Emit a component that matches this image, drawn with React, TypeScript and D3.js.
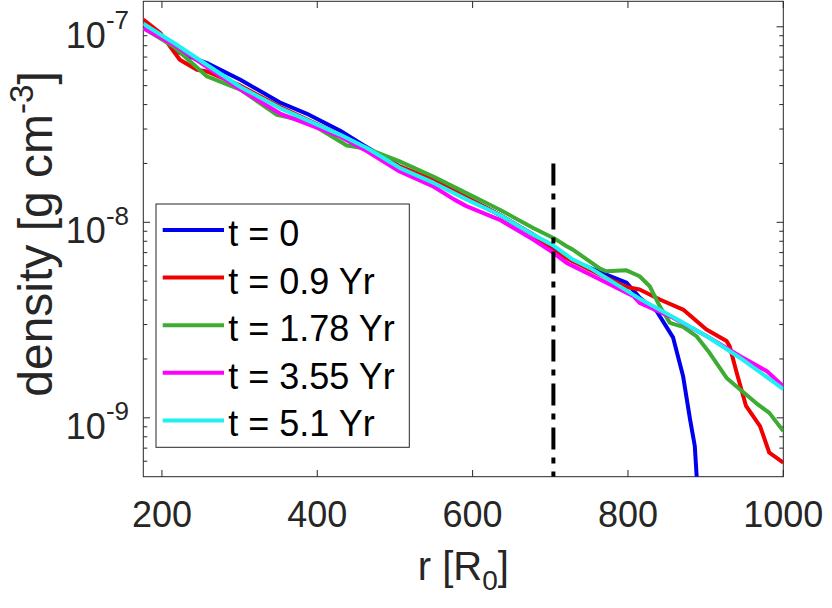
import React from 'react';
import * as d3 from 'd3';

// radius [R0] and density [g cm^-3], one pair of arrays per snapshot
const rT0 = [176, 200, 223, 258, 301, 352, 386, 429, 460, 506, 550, 592, 635, 678, 704, 729, 772, 798, 815, 837, 858, 871, 880, 886, 890];
const rhoT0 = [1.01e-7, 8.8e-8, 7.36e-8, 6.52e-8, 5.36e-8, 4.1e-8, 3.6e-8, 2.95e-8, 2.47e-8, 1.93e-8, 1.63e-8, 1.34e-8, 1.09e-8, 8.65e-9, 7.3e-9, 6.35e-9, 5.4e-9, 4.92e-9, 4.12e-9, 3.51e-9, 2.58e-9, 1.63e-9, 9.8e-10, 7.2e-10, 4.0e-10];

const rT09 = [176, 198, 223, 245, 258, 301, 352, 429, 506, 549, 592, 635, 678, 704, 729, 764, 798, 815, 841, 871, 901, 927, 931, 940, 952, 970, 982, 1000];
const rhoT09 = [1.09e-7, 9.29e-8, 6.78e-8, 6.03e-8, 5.91e-8, 5.0e-8, 3.9e-8, 2.8e-8, 1.93e-8, 1.65e-8, 1.34e-8, 1.09e-8, 8.65e-9, 7.11e-9, 6.32e-9, 5.4e-9, 4.67e-9, 4.53e-9, 4.03e-9, 3.58e-9, 2.83e-9, 2.47e-9, 2.32e-9, 1.7e-9, 1.15e-9, 9.07e-10, 6.63e-10, 5.9e-10];

const rT178 = [176, 215, 258, 301, 348, 387, 438, 464, 506, 550, 592, 635, 678, 704, 721, 729, 764, 772, 798, 815, 828, 841, 854, 871, 888, 905, 927, 944, 965, 982, 1000];
const rhoT178 = [9.85e-8, 7.93e-8, 5.57e-8, 4.77e-8, 3.55e-8, 3.28e-8, 2.47e-8, 2.38e-8, 2.05e-8, 1.71e-8, 1.41e-8, 1.16e-8, 9.36e-9, 8.32e-9, 7.54e-9, 7.25e-9, 5.8e-9, 5.62e-9, 5.68e-9, 5.3e-9, 4.71e-9, 3.72e-9, 3.06e-9, 2.92e-9, 2.62e-9, 2.15e-9, 1.6e-9, 1.4e-9, 1.19e-9, 1.06e-9, 8.55e-10];

const rT355 = [176, 215, 301, 352, 429, 464, 506, 550, 576, 592, 635, 678, 704, 721, 764, 807, 815, 858, 901, 944, 979, 1000];
const rhoT355 = [9.85e-8, 8.1e-8, 4.77e-8, 3.6e-8, 2.75e-8, 2.31e-8, 1.82e-8, 1.52e-8, 1.31e-8, 1.21e-8, 1.03e-8, 8.16e-9, 6.98e-9, 6.2e-9, 5.1e-9, 4.19e-9, 3.87e-9, 3.25e-9, 2.62e-9, 2.07e-9, 1.73e-9, 1.45e-9];

const rT51 = [176, 215, 301, 352, 429, 464, 506, 550, 592, 635, 678, 704, 729, 751, 815, 858, 901, 944, 986, 1000];
const rhoT51 = [1.036e-7, 8.29e-8, 4.92e-8, 3.84e-8, 2.81e-8, 2.4e-8, 1.9e-8, 1.59e-8, 1.31e-8, 1.09e-8, 8.65e-9, 7.6e-9, 6.45e-9, 5.85e-9, 4.07e-9, 3.28e-9, 2.62e-9, 2.03e-9, 1.54e-9, 1.4e-9];

const seriesLabels = ['t = 0', 't = 0.9 Yr', 't = 1.78 Yr', 't = 3.55 Yr', 't = 5.1 Yr'];

// dash-dot marker line
const markerR = [704, 704];
const markerRho = [2e-8, 5e-10];

const xTicks = [200, 400, 600, 800, 1000];
const yDecades = [-9, -8, -7];

const FONT = "'Liberation Sans', Arial, Helvetica, sans-serif";
const AXIS = '#262626';
const COLORS = ['#0000f0', '#f00000', '#3cac32', '#ff00ff', '#1ff0f0'];

export default function App() {
  const W = 832, H = 608;
  const left = 143.3, right = 783.3, top = 1.3, bottom = 476.7;

  const x = d3.scaleLinear().domain([176, 1000]).range([left, right]);
  const y = d3.scaleLog().domain([5e-10, 1.35e-7]).range([bottom, top]);

  const line = d3.line<[number, number]>()
    .x(d => x(d[0]))
    .y(d => y(d[1]));

  const series = [
    { r: rT0, rho: rhoT0 },
    { r: rT09, rho: rhoT09 },
    { r: rT178, rho: rhoT178 },
    { r: rT355, rho: rhoT355 },
    { r: rT51, rho: rhoT51 },
  ].map((s, i) => ({
    label: seriesLabels[i],
    color: COLORS[i],
    pts: s.r.map((r, j) => [r, s.rho[j]] as [number, number]),
  }));

  // minor ticks 2..9 x 10^k inside the domain
  const [lo, hi] = y.domain();
  const minor: number[] = [];
  for (let e = -10; e <= -7; e++) {
    for (let k = 2; k <= 9; k++) {
      const v = k * Math.pow(10, e);
      if (v > lo && v < hi) minor.push(v);
    }
  }

  const majorLen = 6.7, minorLen = 4;

  // legend layout
  const lgX = 156, lgY = 204, lgW = 253.3, lgH = 243.3;
  const rowY = (i: number) => 230 + i * 47.6;

  return (
    <svg width={W} height={H} style={{ position: 'absolute', left: 0, top: 0, background: '#fff' }}
      fontFamily={FONT}>
      <defs>
        <clipPath id="plot">
          <rect x={left} y={top} width={right - left} height={bottom - top} />
        </clipPath>
      </defs>

      <rect x={0} y={0} width={W} height={H} fill="#fff" />

      {/* axes box */}
      <rect x={left} y={top} width={right - left} height={bottom - top} fill="none" stroke={AXIS} strokeWidth={1} />

      {/* x ticks */}
      {xTicks.map(t => (
        <g key={'x' + t}>
          <line x1={x(t)} x2={x(t)} y1={bottom} y2={bottom - majorLen} stroke={AXIS} />
          <line x1={x(t)} x2={x(t)} y1={top} y2={top + majorLen} stroke={AXIS} />
          <text x={x(t)} y={527} textAnchor="middle" fontSize={36} fill={AXIS}>{t}</text>
        </g>
      ))}

      {/* y ticks */}
      {yDecades.map(e => {
        const yy = y(Math.pow(10, e));
        return (
          <g key={'y' + e}>
            <line x1={left} x2={left + majorLen} y1={yy} y2={yy} stroke={AXIS} />
            <line x1={right} x2={right - majorLen} y1={yy} y2={yy} stroke={AXIS} />
            <text x={129} y={yy + 21} textAnchor="end" fill={AXIS} fontSize={36}>
              10<tspan fontSize={26} dy={-18.7}>{'-' + Math.abs(e)}</tspan>
            </text>
          </g>
        );
      })}
      {minor.map(v => (
        <g key={'m' + v}>
          <line x1={left} x2={left + minorLen} y1={y(v)} y2={y(v)} stroke={AXIS} />
          <line x1={right} x2={right - minorLen} y1={y(v)} y2={y(v)} stroke={AXIS} />
        </g>
      ))}

      {/* curves */}
      <g clipPath="url(#plot)">
        {series.map(s => (
          <path key={s.label} d={line(s.pts) || ''} fill="none" stroke={s.color}
            strokeWidth={4} strokeLinejoin="round" />
        ))}
        <path d={line(markerR.map((r, i) => [r, markerRho[i]] as [number, number])) || ''}
          fill="none" stroke="#000" strokeWidth={4} strokeDasharray="22 8 6 8" />
      </g>

      {/* axis labels */}
      <text x={(left + right) / 2} y={580} textAnchor="middle" fontSize={40} fill={AXIS}>
        r [R<tspan fontSize={28} dy={10}>0</tspan><tspan dy={-10}>]</tspan>
      </text>
      <text transform={`translate(52,234) rotate(-90)`} textAnchor="middle" fontSize={48} fill={AXIS}>
        density [g cm<tspan fontSize={33} dy={-19}>-3</tspan><tspan dy={19}>]</tspan>
      </text>

      {/* legend */}
      <rect x={lgX} y={lgY} width={lgW} height={lgH} fill="#fff" stroke={AXIS} strokeWidth={1} />
      {series.map((s, i) => (
        <g key={'lg' + i}>
          <line x1={162.7} x2={224} y1={rowY(i)} y2={rowY(i)} stroke={s.color} strokeWidth={4} />
          <text x={228.3} y={rowY(i) + 16} fontSize={36} fill="#000">{s.label}</text>
        </g>
      ))}
    </svg>
  );
}
